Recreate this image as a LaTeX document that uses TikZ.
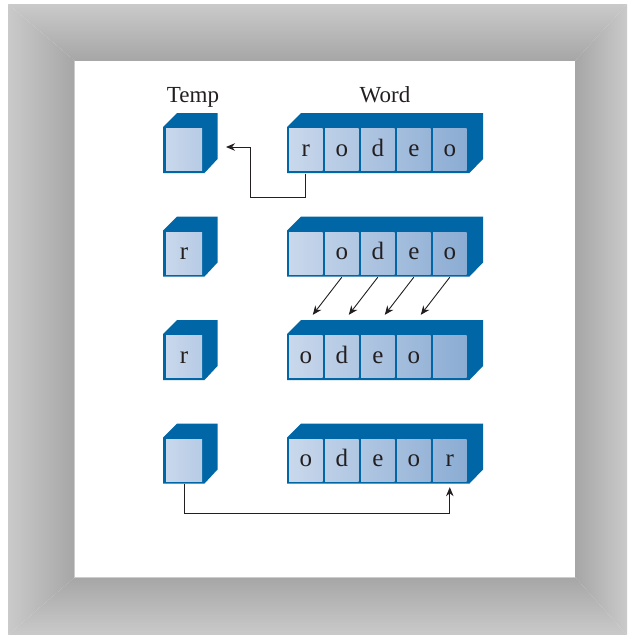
\documentclass[tikz,border=0pt]{standalone}
\usepackage{fontspec}
\setmainfont{Liberation Serif}
\usetikzlibrary{arrows.meta,calc}
\definecolor{frameOut}{HTML}{CACACA}
\definecolor{frameIn}{HTML}{A6A6A6}
\definecolor{dblue}{HTML}{0066A6}
\definecolor{cellL}{HTML}{C9D8EC}
\definecolor{cellR}{HTML}{8BACD3}
\definecolor{ink}{HTML}{231F20}
\tikzset{
  letter/.style={inner sep=0pt, text height=13pt, text depth=0pt,
    font=\fontsize{25}{27}\selectfont, text=ink},
  cellbox/.style={rectangle, letter, minimum width=33.6pt, minimum height=42pt},
  tempbox/.style={rectangle, letter, minimum width=36pt, minimum height=42pt,
    shade, left color=cellL, right color=cellL!70!cellR},
  title/.style={font=\fontsize{23}{25}\selectfont, text=ink, anchor=base},
  arr/.style={draw=ink, line width=0.9pt, -{Stealth[length=9pt,width=7.5pt]}},
}
\newcommand\wordrow[3]{%
  \fill[dblue] (287,#2+46) -- (287,#2) -- (301,#2-14) -- (483,#2-14) -- (483,#2+32) -- (469.5,#2+46) -- cycle;
  \foreach \L [count=\i] in {#3} {
    \pgfmathtruncatemacro\pa{100-20*(\i-1)}
    \pgfmathtruncatemacro\pb{100-20*\i}
    \node[cellbox, shade, left color=cellL!\pa!cellR, right color=cellL!\pb!cellR]
      (w#1c\i) at (305.8+36*\i-36, #2+22.5) {\L};
  }
}
\newcommand\temprow[3]{%
  \fill[dblue] (163,#2+46) -- (163,#2) -- (177,#2-14) -- (217.5,#2-14) -- (217.5,#2+32) -- (204.5,#2+46) -- cycle;
  \node[tempbox] (t#1) at (184,#2+22.5) {#3};
}
\begin{document}
\begin{tikzpicture}[x=1pt,y=-1pt]
\useasboundingbox (0,0) rectangle (627,635);
% frame
\shade[top color=frameOut,bottom color=frameIn] (8,4) -- (627,4) -- (575,61) -- (75,61) -- cycle;
\shade[left color=frameOut,right color=frameIn] (8,4) -- (75,61) -- (75,577) -- (8,635) -- cycle;
\shade[left color=frameIn,right color=frameOut] (575,61) -- (627,4) -- (627,635) -- (575,577) -- cycle;
\shade[top color=frameIn,bottom color=frameOut] (75,577) -- (575,577) -- (627,635) -- (8,635) -- cycle;
\fill[white] (75,61) rectangle (575,577);
\draw[black!20, line width=0.8pt] (74.6,61) -- (74.6,577.4) -- (575,577.4);
% titles
\node[title] (ttemp) at (193,102) {Temp};
\node[title] (tword) at (385,102) {Word};
% rows
\temprow{1}{127}{}
\wordrow{1}{127}{r,o,d,e,o}
\temprow{2}{230.5}{r}
\wordrow{2}{230.5}{{},o,d,e,o}
\temprow{3}{334}{r}
\wordrow{3}{334}{o,d,e,o,{}}
\temprow{4}{437.5}{}
\wordrow{4}{437.5}{o,d,e,o,r}
% arrow row 1: r -> Temp
\coordinate (a1) at (226,147);
\draw[arr] ([yshift=-3pt]w1c1.south) -- ++(0,24) -| ([xshift=24pt]a1) -- (a1);
% arrows row 2 -> row 3
\foreach \i [evaluate=\i as \j using int(\i+1)] in {1,2,3,4} {
  \coordinate (b\i) at ($(w3c\i.north)+(7,-20.5)$);
  \draw[arr] ([yshift=-3pt]w2c\j.south) -- (b\i);
}
% arrow row 4: Temp -> last cell
\coordinate (a4) at ($(w4c5.south)+(0,6)$);
\draw[arr] ([yshift=-3pt]t4.south) -- ++(0,29) -| (a4);
\end{tikzpicture}
\end{document}
